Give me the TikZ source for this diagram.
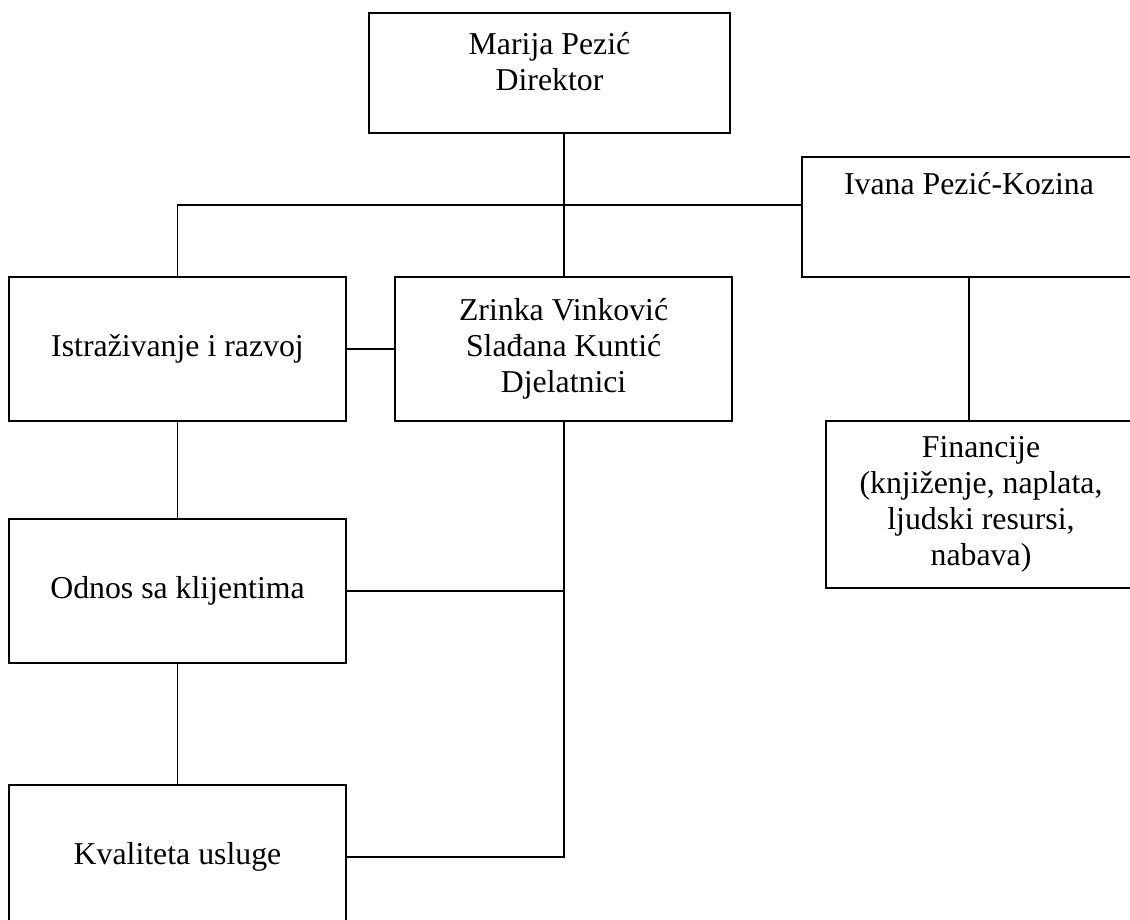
\documentclass[tikz,border=0pt]{standalone}
\usepackage{fontspec}
\setmainfont{Liberation Serif}
\usetikzlibrary{positioning}

\tikzset{
	orgpicture/.style = {
		x = 1pt,
		y = -1pt,
		font = \fontsize{31.8}{36}\selectfont,
		line/.style = {
			draw,
			line width = 1.9pt,
		}
	},
	orgbox/.style = {
		rectangle,
		draw = black,
		line width = 2.1pt,
		align = center,
		inner sep = 0pt,
		minimum width = 337pt,
		minimum height = 144pt
	},
	headbox/.style = {
		orgbox,
		minimum height = 120pt
	},
	boxtext/.style = {
		align = center,
		inner sep = 0pt
	}
}

\begin{document}
\begin{tikzpicture}[orgpicture]
	\useasboundingbox (0,0) rectangle (1130,919);

	\node[headbox, minimum width = 361pt, label = {[boxtext, name = direktor-text, anchor = north, yshift = -20pt]north:Marija Pezić\\Direktor}] (direktor) at (549.5,73) {};
	\node[headbox, minimum width = 334pt, label = {[boxtext, name = ivana-text, anchor = base, yshift = -39pt]north:Ivana Pezić-Kozina}] (ivana) at (969,217) {};

	\node[orgbox] (istr) at (177.5,349) {Istraživanje i razvoj};
	\node[orgbox, right = 47pt of istr] (zrinka) {Zrinka Vinković\\Slađana Kuntić\\Djelatnici};
	\node[orgbox, below = 96pt of istr] (odnos) {Odnos sa klijentima};
	\node[orgbox, below = 120pt of odnos] (kvaliteta) {Kvaliteta usluge};

	\node[orgbox, minimum width = 310pt, minimum height = 167pt] (fin) at (981,504.5) {Financije\\(knjiženje, naplata,\\ljudski resursi,\\nabava)};

	\coordinate (hub) at (561.5,205);

	\begin{scope}[every path/.style = line]
		\path (direktor.south -| zrinka.north) -- (zrinka.north);
		\path (istr.north) |- (hub) -- (hub -| ivana.west);
		\path (istr.east) -- (zrinka.west);
		\path (istr.south) -- (odnos.north);
		\path (odnos.south) -- (kvaliteta.north);
		\path (odnos.east) -- (odnos.east -| zrinka.south);
		\path (zrinka.south) |- (kvaliteta.east);
		\path (ivana.south) -- (ivana.south |- fin.north);
	\end{scope}
\end{tikzpicture}
\end{document}
